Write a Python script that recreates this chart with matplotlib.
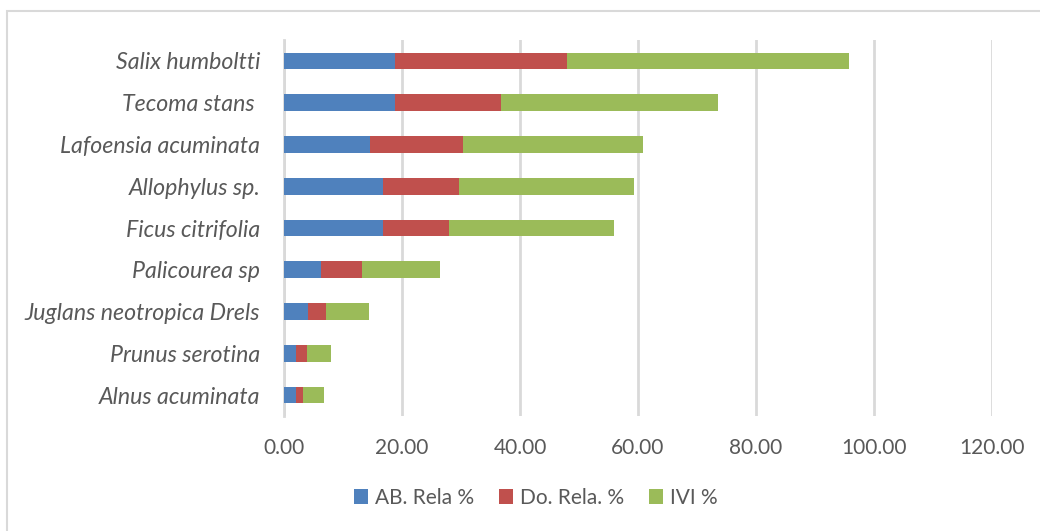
import numpy as np
import matplotlib.pyplot as plt
from matplotlib.patches import Rectangle

# species (bottom to top as drawn) and the three stacked components
species = ["Alnus acuminata", "Prunus serotina", "Juglans neotropica Drels",
           "Palicourea sp", "Ficus citrifolia", "Allophylus sp.",
           "Lafoensia acuminata", "Tecoma stans ", "Salix humboltti"]
ab_rela = [2.0, 2.0, 4.1, 6.2, 16.7, 16.7, 14.6, 18.8, 18.8]
do_rela = [1.3, 1.9, 3.1, 7.0, 11.3, 12.9, 15.8, 17.9, 29.1]
ivi = [3.5, 4.0, 7.2, 13.3, 28.0, 29.7, 30.5, 36.9, 47.9]

labels = ["AB. Rela %", "Do. Rela. %", "IVI %"]
colors = ["#4F81BD", "#C0504D", "#9BBB59"]
txt = "#595959"

plt.rcParams['font.family'] = ['Lato', 'DejaVu Sans']

fig = plt.figure(figsize=(10.4, 5.31), dpi=100)
ax = fig.add_axes([284/1040, 1-416/531, 708/1040, 376/531])

y = np.arange(len(species))
left = np.zeros(len(species))
for vals, lab, col in zip([ab_rela, do_rela, ivi], labels, colors):
    ax.barh(y, vals, height=0.4, left=left, color=col, label=lab, zorder=3)
    left = left + np.array(vals)

ax.set_xlim(0, 120)
ax.set_ylim(-0.5, len(species) - 0.5)
ax.set_xticks(np.arange(0, 121, 20))
ax.set_xticklabels([f"{v:.2f}" for v in np.arange(0, 121, 20)])
ax.set_yticks(y)
ax.set_yticklabels(species, fontstyle='italic')
ax.tick_params(axis='x', length=0, pad=16, labelsize=15, labelcolor=txt)
ax.tick_params(axis='y', length=0, pad=17, labelsize=16.7, labelcolor=txt)
ax.grid(axis='x', color='#D9D9D9', linewidth=2, zorder=0)
for s in ['top', 'right', 'bottom']:
    ax.spines[s].set_visible(False)
ax.spines['left'].set_color('#D9D9D9')
ax.spines['left'].set_linewidth(2)

leg = fig.legend(loc='center', bbox_to_anchor=(0.515, 1-498/531), ncol=3,
                 frameon=False, fontsize=15, handlelength=0.7, handleheight=0.7,
                 handletextpad=0.3, columnspacing=1.2)
for t in leg.get_texts():
    t.set_color(txt)

fig.patches.append(Rectangle((7/1040, -0.05), 1.1, 1-11/531+0.05,
                             transform=fig.transFigure, fill=False,
                             edgecolor='#D9D9D9', linewidth=1.5))

fig.savefig("out.png", dpi=100)
